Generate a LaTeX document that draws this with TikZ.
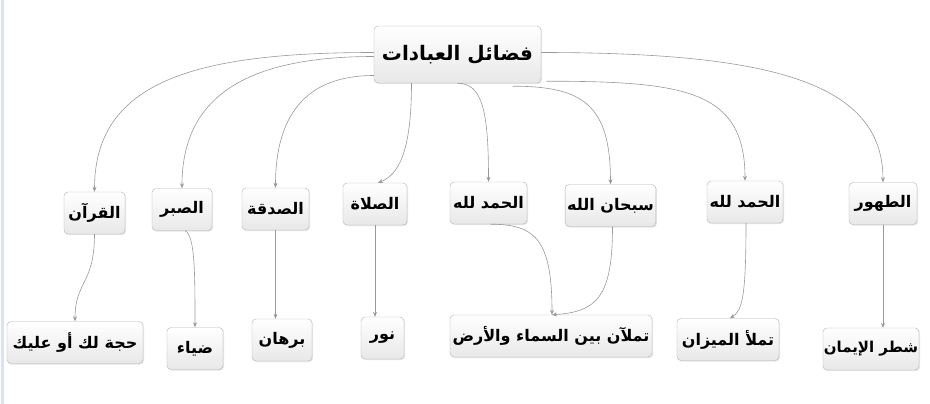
\documentclass[tikz,border=0pt]{standalone}
\usepackage{fontspec}
\usepackage{tikz}
\usetikzlibrary{arrows.meta,shadows}
\newfontfamily\arabicfont[Script=Arabic]{DejaVu Sans}
\TeXXeTstate=1
\newcommand{\rl}[1]{\beginR #1\endR}
\definecolor{framebl}{RGB}{214,228,246}

\begin{document}
\begin{tikzpicture}
  [x=1pt,y=-1pt,>={Stealth[length=5pt,width=4pt]},
   every node/.style={rectangle,rounded corners=4pt,draw=gray!60,top color=white,bottom color=gray!18,
     drop shadow={opacity=.2,shadow xshift=1pt,shadow yshift=-1pt},
     font=\arabicfont\bfseries\fontsize{16}{19}\selectfont,minimum height=42pt,inner sep=2pt},
   link/.style={->,draw=gray!80,line width=.6pt}]
  \useasboundingbox (0,0) rectangle (930,404);
  \draw[framebl,line width=3pt] (2,0) -- (2,404);

  \node[minimum width=167pt,minimum height=57pt,font=\arabicfont\bfseries\fontsize{20}{24}\selectfont] (n0) at (457.5,54.5) {\rl{فضائل العبادات}};
  \node[minimum width=61pt] (n1) at (94.5,213) {\rl{القرآن}};
  \node[minimum width=60pt] (n2) at (182,209.5) {\rl{الصبر}};
  \node[minimum width=67pt] (n3) at (275.5,209) {\rl{الصدقة}};
  \node[minimum width=64pt] (n4) at (375,204) {\rl{الصلاة}};
  \node[minimum width=77pt] (n5) at (488.5,203) {\rl{الحمد لله}};
  \node[minimum width=89pt] (n6) at (610.5,205.5) {\rl{سبحان الله}};
  \node[minimum width=76pt] (n7) at (745,202) {\rl{الحمد لله}};
  \node[minimum width=68pt] (n8) at (883,203.5) {\rl{الطهور}};

  \node[minimum width=136pt] (m1) at (75,342.5) {\rl{حجة لك أو عليك}};
  \node[minimum width=56pt] (m2) at (195,348.5) {\rl{ضياء}};
  \node[minimum width=60pt] (m3) at (282,340) {\rl{برهان}};
  \node[minimum width=43pt] (m4) at (382.5,338) {\rl{نور}};
  \node[minimum width=202pt] (m5) at (551,336) {\rl{تملآن بين السماء والأرض}};
  \node[minimum width=102pt] (m6) at (728,339.5) {\rl{تملأ الميزان}};
  \node[minimum width=96pt,inner xsep=0pt,font=\arabicfont\bfseries\fontsize{15}{18}\selectfont] (m7) at (871,349) {\rl{شطر الإيمان}};

  \draw[link] ([yshift=2pt]n0.west) .. controls +(-180,0) and +(0,-110) .. (n1.north);
  \draw[link] ([yshift=-2pt]n0.west) .. controls +(-130,0) and +(0,-90) .. (n2.north);
  \draw[link] ([yshift=-21pt]n0.west) .. controls +(-70,0) and +(0,-70) .. (n3.north);
  \draw[link] ([xshift=-46pt]n0.south) .. controls +(0,70) and +(20,-8) .. ([xshift=3pt]n4.north);
  \draw[link] (n0.south) .. controls +(25,0) and +(0,-70) .. (n5.north);
  \draw[link] ([xshift=55pt,yshift=-3pt]n0.south) .. controls +(70,0) and +(0,-80) .. (n6.north);
  \draw[link] ([xshift=5pt,yshift=2pt]n0.south east) .. controls +(140,0) and +(0,-90) .. (n7.north);
  \draw[link] ([yshift=2pt]n0.east) .. controls +(230,0) and +(0,-100) .. (n8.north);

  \draw[link] (n1.south) .. controls +(0,50) and +(0,-40) .. (m1.north);
  \draw[link] ([xshift=3pt]n2.south) .. controls +(10,5) and +(0,-55) .. (m2.north);
  \draw[link] (n3) -- (n3 |- m3.north);
  \draw[link] (n4) -- (n4 |- m4.north);
  \draw[link] ([xshift=2pt]n5.south) .. controls +(45,0) and +(0,-75) .. ([xshift=1pt]m5.north);
  \draw[link] ([xshift=2pt]n6.south) .. controls +(0,70) and +(45,-3) .. ([xshift=1pt]m5.north);
  \draw[link] ([xshift=1pt]n7.south) .. controls +(0,75) and +(12,-8) .. ([xshift=2pt]m6.north);
  \draw[link] (n8) -- (n8 |- m7.north);
\end{tikzpicture}
\end{document}
